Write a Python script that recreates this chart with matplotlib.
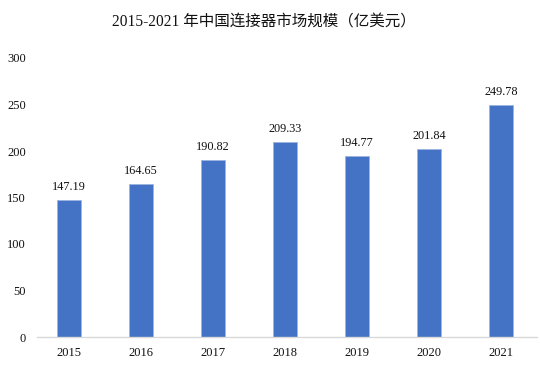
import matplotlib
matplotlib.use("Agg")
import matplotlib.pyplot as plt

years = ["2015", "2016", "2017", "2018", "2019", "2020", "2021"]
values = [147.19, 164.65, 190.82, 209.33, 194.77, 201.84, 249.78]
yticks = [0, 50, 100, 150, 200, 250, 300]
title = "2015-2021 年中国连接器市场规模（亿美元）"

fonts = ["Liberation Serif", "Noto Sans CJK SC"]
plt.rcParams['font.family'] = fonts

fig = plt.figure(figsize=(5.4, 3.66), dpi=100)
ax = fig.add_axes([33/540, 29/366, 504/540, 279/366])

x = list(range(len(years)))
bars = ax.bar(x, values, width=0.34, color="#4472C4", edgecolor="#9DB4E0", linewidth=0.6)
for xi, v in zip(x, values):
    ax.annotate(f"{v:.2f}", (xi, v), xytext=(0, 5), textcoords="offset points",
                ha="center", va="bottom", fontsize=8.8, color="#111111")

ax.set_xlim(-0.5, len(years) - 0.5)
ax.set_ylim(0, 300)
ax.set_yticks(yticks)
ax.set_yticklabels([str(t) for t in yticks])
ax.set_xticks(x)
ax.set_xticklabels(years)
ax.tick_params(axis="both", length=0, labelsize=9, colors="#111111")
ax.tick_params(axis="y", pad=5)
ax.tick_params(axis="x", pad=7)
for s in ["top", "right", "left"]:
    ax.spines[s].set_visible(False)
ax.spines["bottom"].set_color("#D9D9D9")
ax.spines["bottom"].set_linewidth(1.0)
ax.spines["bottom"].set_bounds(-0.44, 6.5)

fig.text(264/540, 1 - 23/366, title, ha="center", va="center", fontsize=11.2, color="#111111")

fig.savefig("out.png", dpi=100)
